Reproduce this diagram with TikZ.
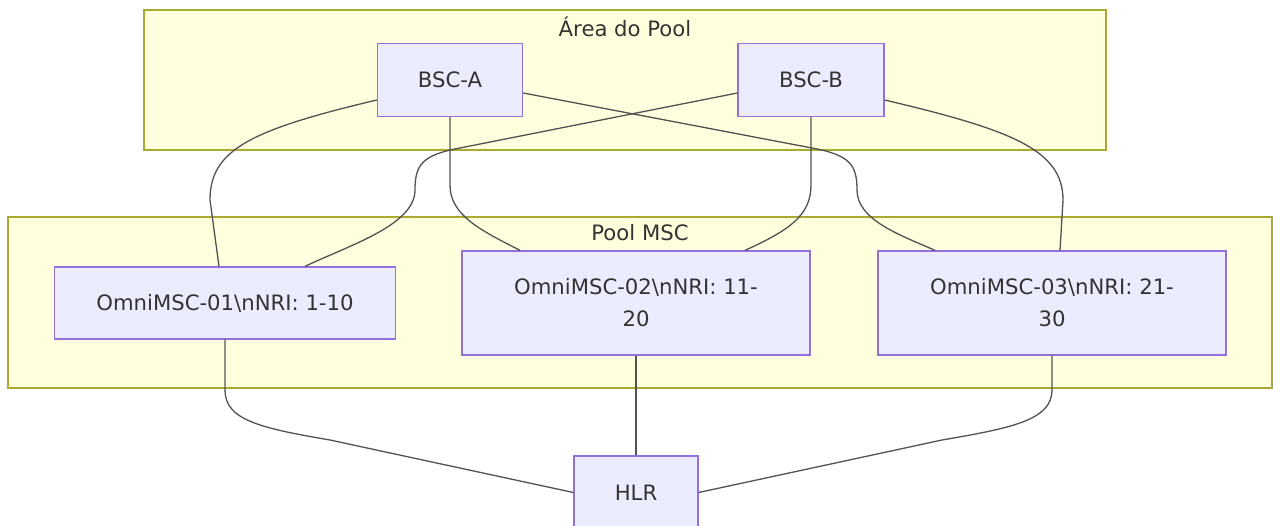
\documentclass[tikz,border=0pt]{standalone}
\usepackage{fontspec}
\setmainfont{DejaVu Sans}
\usepackage{tikz}

\definecolor{clfill}{HTML}{FFFFDE}
\definecolor{cldraw}{HTML}{AAAA33}
\definecolor{ndfill}{HTML}{ECECFF}
\definecolor{nddraw}{HTML}{9370DB}
\definecolor{txt}{HTML}{333333}

\begin{document}
\begin{tikzpicture}[x=1pt, y=-1pt,
        cluster/.style={draw=cldraw, fill=clfill, line width=1.3pt},
        box/.style={rectangle, draw=nddraw, fill=ndfill, line width=1.3pt, inner sep=0pt,
                    align=center, text=txt, font=\fontsize{21.2}{32}\selectfont},
        title/.style={text=txt, font=\fontsize{21.2}{32}\selectfont, inner sep=0pt},
        link/.style={draw=txt!85, line width=1.3pt}]
        \useasboundingbox (0,0) rectangle (1273,526);

        % Clusters
            \draw[cluster] (144,10) rectangle (1106,150);
            \node[title] (areaLabel) at (625,27) {Área do Pool};
            \draw[cluster] (8,217) rectangle (1272,388);
            \node[title] (poolLabel) at (640,233) {Pool MSC};

        % BSC nodes
            \node[box, minimum width=145, minimum height=73] (bscA) at (450,80) {BSC-A};
            \node[box, minimum width=146, minimum height=73] (bscB) at (811,80) {BSC-B};

        % MSC nodes
            \node[box, minimum width=341, minimum height=72] (msc1) at (225,303) {OmniMSC-01\textbackslash nNRI: 1-10};
            \node[box, minimum width=348, minimum height=104] (msc2) at (636,303) {OmniMSC-02\textbackslash nNRI: 11-\\20};
            \node[box, minimum width=348, minimum height=104] (msc3) at (1052,303) {OmniMSC-03\textbackslash nNRI: 21-\\30};

        % HLR node
            \node[box, minimum width=124, minimum height=73] (hlr) at (636,492.5) {HLR};

        % Connections: BSC-A to MSC
            \draw[link] ([yshift=-20]bscA.west) .. controls (250,130) and (210,150) .. (210,200) -- ([xshift=-6]msc1.north);
            \draw[link] (bscA.south) -- (450,185) .. controls (450,215) and (480,230) .. ([xshift=-116]msc2.north);
            \draw[link] ([yshift=-13]bscA.east) -- (812,148) .. controls (850,155) and (857,165) .. (857,190) .. controls (857,220) and (900,235) .. ([xshift=-117]msc3.north);

        % Connections: BSC-B to MSC
            \draw[link] ([yshift=-13]bscB.west) -- (460,148) .. controls (422,155) and (415,165) .. (415,190) .. controls (415,225) and (350,245) .. ([xshift=80]msc1.north);
            \draw[link] (bscB.south) -- (811,185) .. controls (811,215) and (790,230) .. ([xshift=109]msc2.north);
            \draw[link] ([yshift=-20]bscB.east) .. controls (1012,130) and (1063,150) .. (1063,200) -- ([xshift=8]msc3.north);

        % Connections: MSC to HLR
            \draw[link] (msc1.south) -- (225,390) .. controls (225,420) and (260,428) .. (330,440) -- (hlr.west);
            \draw[link] (msc2.south) -- (hlr.north);
            \draw[link] (msc3.south) -- (1052,390) .. controls (1052,420) and (1012,428) .. (942,440) -- (hlr.east);
    \end{tikzpicture}
\end{document}
